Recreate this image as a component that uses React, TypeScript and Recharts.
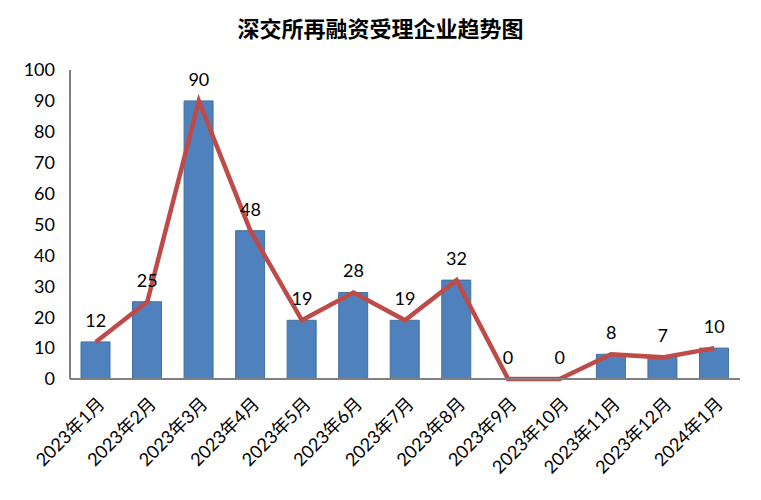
import { ComposedChart, Bar, Line, XAxis, YAxis, LabelList } from 'recharts'

const CATEGORIES = [
  '2023年1月', '2023年2月', '2023年3月', '2023年4月', '2023年5月', '2023年6月', '2023年7月',
  '2023年8月', '2023年9月', '2023年10月', '2023年11月', '2023年12月', '2024年1月',
]
const VALUES = [12, 25, 90, 48, 19, 28, 19, 32, 0, 0, 8, 7, 10]
const Y_TICKS = [0, 10, 20, 30, 40, 50, 60, 70, 80, 90, 100]

const FONT = 'Lato, "Noto Sans CJK SC", sans-serif'

const data = CATEGORIES.map((name, i) => ({ name, value: VALUES[i] }))

function RotatedTick({ x, y, payload }: any) {
  return (
    <g transform={`translate(${x + 10},${y + 18})`}>
      <text
        textAnchor="end"
        transform="rotate(-45)"
        fontSize={18}
        fontFamily={FONT}
        fill="#000"
      >
        {payload.value}
      </text>
    </g>
  )
}

export default function App() {
  return (
    <div style={{ position: 'absolute', top: 0, left: 0, width: 761, height: 500, background: '#fff' }}>
      <div
        style={{
          position: 'absolute',
          top: 11,
          left: 0,
          width: 761,
          textAlign: 'center',
          fontFamily: '"Noto Sans CJK SC", sans-serif',
          fontWeight: 'bold',
          fontSize: 22,
          color: '#000',
        }}
      >
        深交所再融资受理企业趋势图
      </div>
      <ComposedChart
        width={761}
        height={500}
        data={data}
        margin={{ top: 70, right: 21, bottom: 21, left: 10 }}
      >
        <XAxis
          dataKey="name"
          interval={0}
          tickLine={false}
          axisLine={{ stroke: '#808080', strokeWidth: 2 }}
          height={100}
          tick={<RotatedTick />}
        />
        <YAxis
          domain={[0, 100]}
          ticks={Y_TICKS}
          width={60}
          tickLine={false}
          tickMargin={9}
          axisLine={{ stroke: '#808080', strokeWidth: 2 }}
          tick={{ fontSize: 18, fill: '#000', fontFamily: FONT }}
        />
        <Bar
          dataKey="value"
          barSize={29}
          fill="#4F81BD"
          stroke="#41719C"
          strokeWidth={1}
          isAnimationActive={false}
        />
        <Line
          type="linear"
          dataKey="value"
          stroke="#BE4B48"
          strokeWidth={4.5}
          dot={false}
          activeDot={false}
          isAnimationActive={false}
        >
          <LabelList dataKey="value" position="top" offset={15} fontSize={18} fill="#000" fontFamily={FONT} />
        </Line>
      </ComposedChart>
    </div>
  )
}
